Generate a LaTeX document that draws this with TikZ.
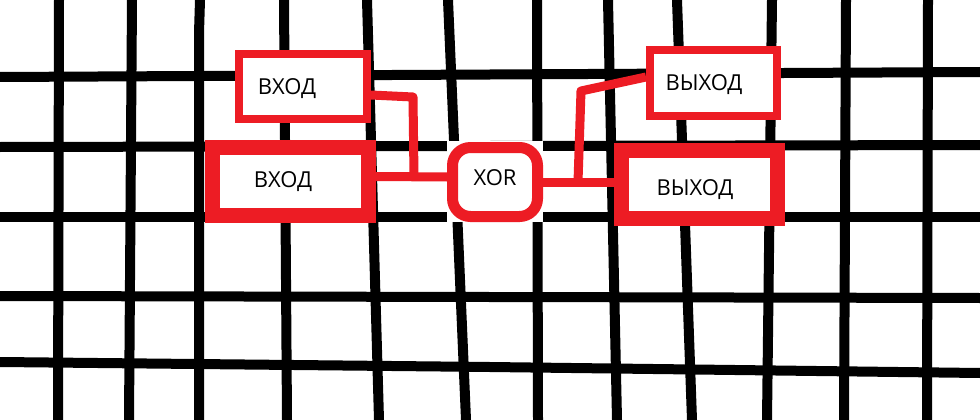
\documentclass[tikz,border=0pt]{standalone}
\usepackage{fontspec}
\setmainfont{Open Sans}
\definecolor{pred}{RGB}{237,28,36}
\begin{document}
\begin{tikzpicture}[x=1pt,y=-1pt,
  gridline/.style={line width=10pt, black},
  wire/.style={line width=9pt, draw=pred, line join=round},
  thinbox/.style={draw=pred, fill=white, line width=8pt, minimum width=128pt, minimum height=65pt,
    inner sep=0pt, font=\fontsize{22}{26}\selectfont, text height=16pt, text depth=0pt},
  thickbox/.style={thinbox, line width=15pt, minimum width=156pt, minimum height=68pt},
  gatebox/.style={draw=pred, fill=white, line width=11pt, rounded corners=18pt,
    minimum width=85pt, minimum height=69pt, inner sep=0pt,
    font=\fontsize{22}{26}\selectfont, text height=16pt, text depth=10pt}
]
\useasboundingbox (0,0) rectangle (980,420);
\fill[white] (0,0) rectangle (980,420);
\begin{scope}
\clip (0,0) rectangle (980,420);
% horizontal grid lines
\draw[gridline] (0,77) -- (980,72);
\draw[gridline] (0,147) -- (980,145);
\draw[gridline] (0,217) -- (980,217);
\draw[gridline] (0,296) -- (980,298);
\draw[gridline] (0,362) -- (490,367) -- (980,373);
% vertical grid lines
\draw[gridline] (59,0) -- (58,420);
\draw[gridline] (132,0) -- (129,420);
\draw[gridline] (200,0) -- (199,33) -- (199,420);
\draw[gridline] (284,0) -- (287,420);
\draw[gridline] (367,0) -- (379,420);
\draw[gridline] (448,0) -- (466,420);
\draw[gridline] (537,0) -- (538,420);
\draw[gridline] (608,0) -- (617,420);
\draw[gridline] (677,0) -- (692,420);
\draw[gridline] (772,0) -- (767,420);
\draw[gridline] (846,0) -- (844,420);
\draw[gridline] (928,0) -- (927,420);
\end{scope}
% white patch behind the gate
\fill[white] (447,141) rectangle (543,222);
% nodes
\node[thinbox] (in1) at (303,86.5) {\hspace{-32pt}ВХОД};
\node[thickbox, text depth=4pt] (in2) at (290.5,181.5) {\hspace{-15pt}ВХОД};
\node[gatebox] (xor) at (495,182) {XOR};
\node[thinbox, minimum width=127pt, minimum height=66pt] (out1) at (713.5,83) {\hspace{-19pt}ВЫХОД};
\node[thickbox, text height=21pt] (out2) at (699.5,184.5) {\hspace{-9pt}ВЫХОД};
% connector bends
\coordinate (k1) at (413,97);
\coordinate (j1) at (414,176.5);
\coordinate (j2) at (578,182);
\coordinate (k2) at (581,91);
% connectors
\draw[wire] ([yshift=5pt]in2.east) -- ([yshift=5pt]xor.west);
\draw[wire] ([yshift=-8.5pt]in1.east) -- (k1) -- (j1);
\draw[wire] (xor.east) -- (xor.east -| out2.west);
\draw[wire] (j2) -- (k2) -- ([yshift=6pt]out1.west);
\end{tikzpicture}
\end{document}
